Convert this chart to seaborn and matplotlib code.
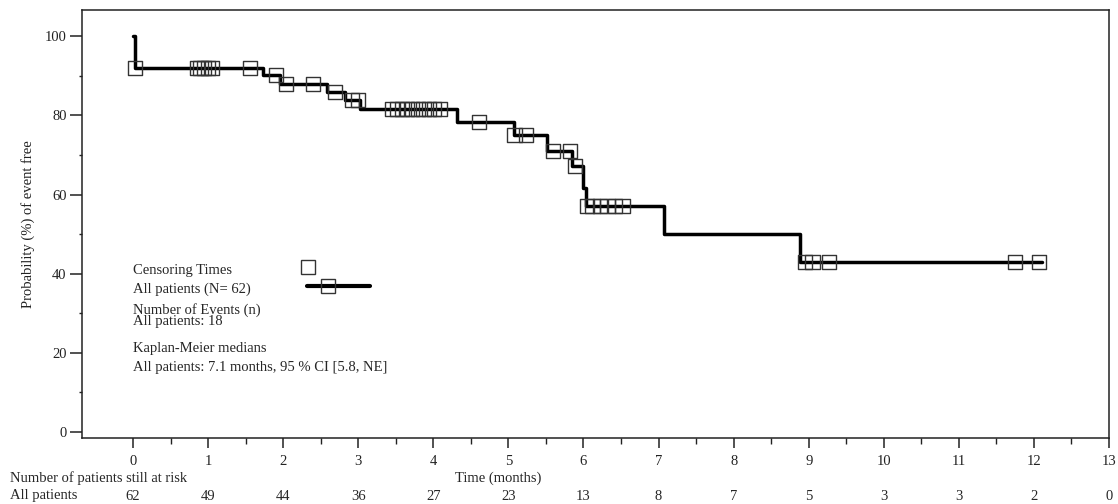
import numpy as np
import pandas as pd
import matplotlib
matplotlib.use("Agg")
import matplotlib.pyplot as plt
import matplotlib.transforms as mtransforms
from matplotlib.ticker import MultipleLocator, FixedLocator
import seaborn as sns

# ---- data ----
step_times = [0.0, 0.03, 1.73, 1.96, 2.58, 2.82, 3.02, 4.31, 5.07, 5.51, 5.85, 5.99, 6.03, 7.07, 8.88, 12.11]
step_surv = [100.0, 91.9, 90.2, 88.0, 85.9, 83.8, 81.5, 78.4, 75.0, 71.0, 67.2, 61.7, 57.1, 50.0, 42.9, 42.9]
censor_times = [0.03, 0.85, 0.9, 0.95, 1.0, 1.05, 1.56, 1.9, 2.04, 2.4, 2.69, 2.92, 3.0,
                3.45, 3.52, 3.58, 3.65, 3.72, 3.8, 3.87, 3.94, 4.01, 4.09, 4.61,
                5.08, 5.23, 5.59, 5.82, 5.89, 6.05, 6.12, 6.22, 6.32, 6.42, 6.52,
                8.95, 9.05, 9.27, 11.75, 12.07]
risk_times = list(range(0, 14))
risk_counts = [62, 49, 44, 36, 27, 23, 13, 8, 7, 5, 3, 3, 2, 0]

sns.set_theme(style="ticks")
plt.rcParams["font.family"] = ["Liberation Serif", "DejaVu Serif"]
plt.rcParams["font.size"] = 10.5

fig = plt.figure(figsize=(11.18, 5.04), dpi=100)
ax = fig.add_axes([82 / 1118, 1 - 438 / 504, (1109 - 82) / 1118, (438 - 10) / 504])

curve = pd.DataFrame({"time": step_times, "surv": step_surv})
sns.lineplot(data=curve, x="time", y="surv", drawstyle="steps-post", color="black",
             linewidth=2.5, estimator=None, sort=False, ax=ax)

idx = np.searchsorted(step_times, censor_times, side="right") - 1
cens = pd.DataFrame({"time": censor_times, "surv": np.array(step_surv)[idx]})
sns.scatterplot(data=cens, x="time", y="surv", marker="s", s=105, facecolor="none",
                edgecolor="#333333", linewidth=1.0, ax=ax, zorder=3)

ax.set_xlim(-0.68, 13)
ax.set_ylim(-1.5, 106.6)
ax.set_xticks(risk_times)
ax.xaxis.set_minor_locator(FixedLocator(np.array(risk_times[:-1]) + 0.5))
ax.yaxis.set_major_locator(MultipleLocator(20))
ax.yaxis.set_minor_locator(FixedLocator([10, 30, 50, 70, 90]))
ax.tick_params(axis="x", which="major", length=7, width=1.1, pad=5, colors="#222222", labelsize=10.5)
ax.tick_params(axis="x", which="minor", length=4, width=1.0, colors="#222222")
ax.tick_params(axis="y", which="major", length=9, width=1.1, pad=2, colors="#222222", labelsize=10.5)
ax.tick_params(axis="y", which="minor", length=2.5, width=1.0, colors="#222222")
for s in ax.spines.values():
    s.set_visible(True)
    s.set_color("#222222")
    s.set_linewidth(1.1)
ax.set_xlabel("")
ax.set_ylabel("")

fig.text(28 / 1118, 1 - 224 / 504, "Probability (%) of event free", rotation=90,
         ha="center", va="center", fontsize=10.5, color="#222222")

# legend block
ax.text(0.0, 40.7, "Censoring Times", ha="left", va="center", fontsize=10.5)
ax.text(0.0, 36.1, "All patients (N= 62)", ha="left", va="center", fontsize=10.5)
ax.plot([2.33], [41.7], marker="s", markersize=10, markerfacecolor="none",
        markeredgecolor="#333333", markeredgewidth=1.0, linestyle="none")
ax.plot([2.32, 3.16], [36.9, 36.9], color="black", linewidth=3)
ax.plot([2.6], [36.9], marker="s", markersize=10, markerfacecolor="none",
        markeredgecolor="#333333", markeredgewidth=1.0, linestyle="none")
ax.text(0.0, 30.8, "Number of Events (n)", ha="left", va="center", fontsize=10.5)
ax.text(0.0, 27.8, "All patients: 18", ha="left", va="center", fontsize=10.5)
ax.text(0.0, 21.2, "Kaplan-Meier medians", ha="left", va="center", fontsize=10.5)
ax.text(0.0, 16.4, "All patients: 7.1 months, 95 % CI [5.8, NE]", ha="left", va="center", fontsize=10.5)

# risk table
fig.text(10 / 1118, 1 - 478 / 504, "Number of patients still at risk", ha="left", va="center", fontsize=10.5)
fig.text(498 / 1118, 1 - 478 / 504, "Time (months)", ha="center", va="center", fontsize=10.5)
fig.text(10 / 1118, 1 - 496 / 504, "All patients", ha="left", va="center", fontsize=10.5)
blend = mtransforms.blended_transform_factory(ax.transData, fig.transFigure)
for t, n in zip(risk_times, risk_counts):
    ax.annotate(str(n), xy=(t, 1 - 496 / 504), xycoords=blend,
                ha="center", va="center", fontsize=10.5, annotation_clip=False)

fig.savefig("out.png", dpi=100)
